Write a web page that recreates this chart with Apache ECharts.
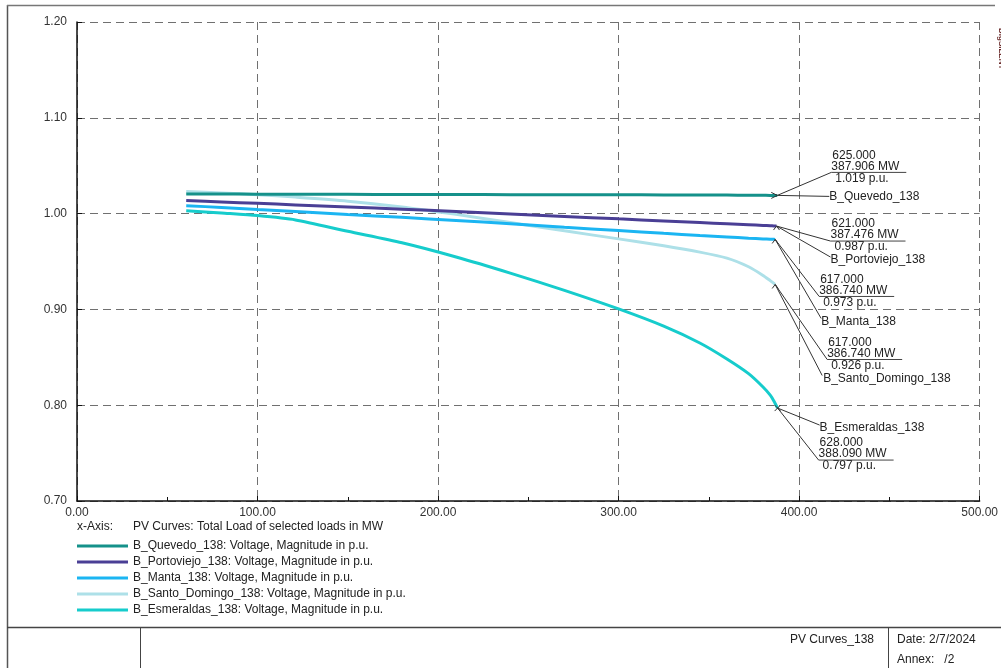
<!DOCTYPE html>
<html>
<head>
<meta charset="utf-8">
<title>PV Curves_138</title>
<script src="https://cdn.jsdelivr.net/npm/echarts@6/dist/echarts.min.js"></script>
<style>
  html, body { margin: 0; padding: 0; background: #fff; }
  #chart { width: 1001px; height: 668px; }
</style>
</head>
<body>
<div id="chart"></div>
<script>
// Total load of the selected loads (MW) at the sampled steps
const loads = [60.5, 80, 100, 121, 150, 180, 210, 240, 270, 300, 325, 345, 360, 372, 380, 384, 386];

const busNames = ['B_Quevedo_138', 'B_Portoviejo_138', 'B_Manta_138', 'B_Santo_Domingo_138', 'B_Esmeraldas_138'];

// Voltage magnitude (p.u.) of each bus at the sampled loads
const quevedo     = [1.0205, 1.0204, 1.0203, 1.0202, 1.0201, 1.0200, 1.0199, 1.0198, 1.0197, 1.0196, 1.0195, 1.0194, 1.0193, 1.0192, 1.0191, 1.0190, 1.0190];
const portoviejo  = [1.0136, 1.0122, 1.0107, 1.0091, 1.0069, 1.0046, 1.0022, 0.9997, 0.9971, 0.9945, 0.9924, 0.9907, 0.9894, 0.9884, 0.9877, 0.9873, 0.9871];
const manta       = [1.0083, 1.0064, 1.0043, 1.0021, 0.9991, 0.9961, 0.9928, 0.9894, 0.9858, 0.9823, 0.9794, 0.9772, 0.9756, 0.9743, 0.9736, 0.9733, 0.9731];
const santoDomingo= [1.0230, 1.0216, 1.0198, 1.0172, 1.0130, 1.0070, 0.9992, 0.9907, 0.9820, 0.9736, 0.9665, 0.9598, 0.9535, 0.9445, 0.9355, 0.9300, 0.9272];
const esmeraldas  = [1.0031, 1.0006, 0.9979, 0.9934, 0.9815, 0.9695, 0.9547, 0.9379, 0.9199, 0.9005, 0.8825, 0.8649, 0.8482, 0.8329, 0.8190, 0.8105, 0.8045];

// Last converged point of each curve
const endStep = [625, 621, 617, 617, 628];
const endLoad = [387.906, 387.476, 386.740, 386.740, 388.090];
const endVolt = [1.019, 0.987, 0.973, 0.926, 0.797];

const voltages = [quevedo, portoviejo, manta, santoDomingo, esmeraldas];
const colors = ['#15918a', '#4a3f95', '#1bb5f2', '#ade0e8', '#16cccc'];
const zOrder = [3, 4, 5, 1, 2];

const FONT = '"Liberation Sans", Arial, sans-serif';

const chart = echarts.init(document.getElementById('chart'), null, { renderer: 'canvas' });

const series = busNames.map((name, k) => ({
  name: name,
  type: 'line',
  // samples beyond the last converged load are left out
  data: loads.map((x, i) => [x, voltages[k][i]])
             .filter(d => d[0] < endLoad[k])
             .concat([[endLoad[k], endVolt[k]]]),
  showSymbol: false,
  smooth: 0.25,
  z: zOrder[k],
  lineStyle: { color: colors[k], width: 3 },
  itemStyle: { color: colors[k] },
  emphasis: { disabled: true }
}));

const dashed = { color: '#707070', width: 1, type: [8, 5] };

chart.setOption({
  animation: false,
  textStyle: { fontFamily: FONT },
  grid: { left: 77, top: 22, right: 19, bottom: 167, containLabel: false },
  xAxis: {
    type: 'value', min: 0, max: 500, interval: 100,
    axisLine: { show: true, onZero: false, lineStyle: { color: '#111', width: 1.5 } },
    axisTick: { show: true, inside: true, length: 5, lineStyle: { color: '#111' } },
    minorTick: { show: true, splitNumber: 2, length: 4, lineStyle: { color: '#111' } },
    axisLabel: { margin: 6, color: '#333', fontSize: 12, fontFamily: FONT, formatter: v => v.toFixed(2) },
    splitLine: { show: true, lineStyle: dashed }
  },
  yAxis: {
    type: 'value', min: 0.7, max: 1.2, interval: 0.1,
    axisLine: { show: true, onZero: false, lineStyle: { color: '#111', width: 1.5 } },
    axisTick: { show: true, inside: true, length: 5, lineStyle: { color: '#111' } },
    axisLabel: { margin: 10, color: '#333', fontSize: 12, fontFamily: FONT, formatter: v => v.toFixed(2) },
    splitLine: { show: true, lineStyle: dashed }
  },
  legend: {
    data: busNames,
    orient: 'vertical',
    left: 77, top: 538, padding: 0,
    icon: 'rect', itemWidth: 51, itemHeight: 3, itemGap: 0,
    selectedMode: false,
    formatter: name => name + ': Voltage, Magnitude in p.u.',
    textStyle: { fontSize: 12, lineHeight: 16, color: '#222', fontFamily: FONT, padding: [0, 0, 0, 0] }
  },
  series: series
});

// Annotation placement relative to each curve end (pixels)
const notes = [
  { under: [54, -23], name: [52, 1],  nameLead: [52, 1],  mark: 'right' },
  { under: [54, 15],  name: [54, 34], nameLead: [54, 31], mark: 'up' },
  { under: [44, 57],  name: [46, 82], nameLead: [46, 79], mark: 'up' },
  { under: [52, 75],  name: [48, 94], nameLead: [47, 91], mark: 'up' },
  { under: [41, 52],  name: [42, 20], nameLead: [42, 17], mark: 'cross' }
];

function txt(x, y, s, opts) {
  return {
    type: 'text', silent: true, z: 50,
    style: Object.assign({ x: x, y: y, text: s, font: '12px ' + FONT, fill: '#222', verticalAlign: 'middle', align: 'left' }, opts || {})
  };
}
function seg(x1, y1, x2, y2, stroke, w) {
  return {
    type: 'line', silent: true, z: 50,
    shape: { x1: x1, y1: y1, x2: x2, y2: y2 },
    style: { stroke: stroke || '#333', lineWidth: w || 1 }
  };
}

const els = [];
busNames.forEach((name, k) => {
  const p = chart.convertToPixel({ gridIndex: 0 }, [endLoad[k], endVolt[k]]);
  const n = notes[k];
  const ux = p[0] + n.under[0], uy = p[1] + n.under[1];
  // value block: step, load, voltage
  els.push(txt(ux + 1, uy - 17, endStep[k].toFixed(3)));
  els.push(txt(ux, uy - 6, endLoad[k].toFixed(3) + ' MW'));
  els.push(txt(ux + 4, uy + 6, endVolt[k].toFixed(3) + ' p.u.'));
  els.push(seg(ux, uy, ux + 75, uy, '#444', 1));
  els.push(seg(p[0], p[1], ux, uy, '#333', 1));
  // bus name
  els.push(txt(p[0] + n.name[0], p[1] + n.name[1], name));
  els.push(seg(p[0], p[1], p[0] + n.nameLead[0], p[1] + n.nameLead[1], '#333', 1));
  // end marker
  if (n.mark === 'right') {
    els.push({ type: 'polyline', silent: true, z: 51, shape: { points: [[p[0] - 6, p[1] - 3], [p[0], p[1]], [p[0] - 6, p[1] + 3]] }, style: { stroke: '#333', lineWidth: 1, fill: null } });
  } else if (n.mark === 'up') {
    els.push({ type: 'polyline', silent: true, z: 51, shape: { points: [[p[0] - 3, p[1] + 4], [p[0], p[1]], [p[0] + 3, p[1] + 4]] }, style: { stroke: '#333', lineWidth: 1, fill: null } });
  } else {
    els.push(seg(p[0] - 3, p[1] - 3, p[0] + 3, p[1] + 3, '#333', 1));
    els.push(seg(p[0] - 3, p[1] + 3, p[0] + 3, p[1] - 3, '#333', 1));
  }
});

// x-axis caption above the legend
els.push(txt(77, 527, 'x-Axis:'));
els.push(txt(133, 527, 'PV Curves: Total Load of selected loads in MW'));

// page frame and title block
els.push(seg(7.5, 5, 7.5, 668, '#555', 1.5));
els.push(seg(7, 5.5, 995, 5.5, '#777', 1.5));
els.push(seg(7, 627.5, 1001, 627.5, '#444', 1.5));
els.push(seg(140.5, 628, 140.5, 668, '#444', 1));
els.push(seg(888.5, 628, 888.5, 668, '#444', 1));
els.push(txt(874, 640, 'PV Curves_138', { align: 'right', font: '12px ' + FONT }));
els.push(txt(897, 640, 'Date: 2/7/2024', { font: '12px ' + FONT }));
els.push(txt(897, 660, 'Annex:   /2', { font: '12px ' + FONT }));
els.push({ type: 'text', silent: true, z: 50, x: 1001, y: 28, rotation: -Math.PI / 2,
  style: { x: 0, y: 0, text: 'DIgSILENT', font: 'bold 8px ' + FONT, fill: '#6a2a2a', align: 'left', verticalAlign: 'middle' } });

chart.setOption({ graphic: els });
</script>
</body>
</html>
